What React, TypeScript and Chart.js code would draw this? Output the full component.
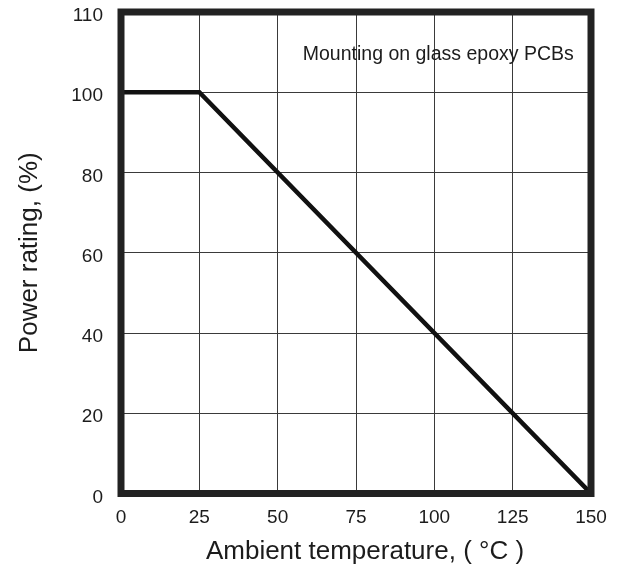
import React, { useEffect, useRef } from "react";
import { Chart, registerables } from "chart.js";

Chart.register(...registerables);

// ---- data ----
const temperatures = [0, 25, 150];
const powerRatings = [100, 100, 0];
const xTickValues = [0, 25, 50, 75, 100, 125, 150];
const yTickValues = [0, 20, 40, 60, 80, 100, 120];
const yTickLabels = ["0", "20", "40", "60", "80", "100", "110"];
const xTitle = "Ambient temperature, ( °C )";
const yTitle = "Power rating, (%)";
const noteText = "Mounting on glass epoxy PCBs";
const noteAt = { x: 144.5, y: 109.5 };

const FONT = '"Liberation Sans", Arial, Helvetica, sans-serif';
const TEXT = "#1c1c1c";

const framePlugin = {
  id: "frame",
  afterDatasetsDraw(chart: any) {
    const { ctx, chartArea } = chart;
    const { left, top, right, bottom } = chartArea;
    ctx.save();
    ctx.strokeStyle = "#222";
    ctx.lineWidth = 7;
    ctx.strokeRect(left, top, right - left, bottom - top);
    ctx.restore();
  },
  afterDraw(chart: any) {
    const { ctx, scales, chartArea } = chart;
    const px = scales.x.getPixelForValue(noteAt.x);
    const py = scales.y.getPixelForValue(noteAt.y);
    ctx.save();
    ctx.font = `19.5px ${FONT}`;
    ctx.fillStyle = TEXT;
    ctx.textAlign = "right";
    ctx.textBaseline = "middle";
    ctx.fillText(noteText, px, py);
    // x-axis title, slightly right of the plot centre as in the original
    ctx.font = `26px ${FONT}`;
    ctx.textAlign = "center";
    ctx.fillText(xTitle, (chartArea.left + chartArea.right) / 2 + 9, scales.x.bottom - 15);
    ctx.restore();
  },
};

export default function App() {
  const ref = useRef<HTMLCanvasElement | null>(null);

  useEffect(() => {
    if (!ref.current) return;
    const chart = new Chart(ref.current, {
      type: "line",
      data: {
        datasets: [
          {
            data: temperatures.map((t, i) => ({ x: t, y: powerRatings[i] })),
            borderColor: "#111",
            borderWidth: 4.5,
            pointRadius: 0,
            tension: 0,
            fill: false,
          },
        ],
      },
      options: {
        responsive: false,
        animation: false,
        devicePixelRatio: 1,
        layout: { padding: { top: 12, right: 31, left: 0, bottom: 0 } },
        plugins: {
          legend: { display: false },
          tooltip: { enabled: false },
        },
        scales: {
          x: {
            type: "linear",
            min: 0,
            max: 150,
            afterBuildTicks: (scale: any) => {
              scale.ticks = xTickValues.map((v) => ({ value: v }));
            },
            afterFit: (scale: any) => {
              scale.height = 73.5;
              scale.paddingLeft = 0;
              scale.paddingRight = 0;
            },
            grid: { color: "#3a3a3a", lineWidth: 1, drawTicks: false },
            border: { display: false },
            ticks: {
              padding: 13,
              color: TEXT,
              font: { family: FONT, size: 19 },
              maxRotation: 0,
            },
            title: { display: false },
          },
          y: {
            type: "linear",
            min: 0,
            max: 120,
            afterBuildTicks: (scale: any) => {
              scale.ticks = yTickValues.map((v) => ({ value: v }));
            },
            afterFit: (scale: any) => {
              scale.width = 121;
              scale.paddingTop = 0;
              scale.paddingBottom = 0;
            },
            grid: { color: "#3a3a3a", lineWidth: 1, drawTicks: false },
            border: { display: false },
            ticks: {
              padding: 18,
              labelOffset: 4,
              color: TEXT,
              font: { family: FONT, size: 19 },
              callback: (v: any) => {
                const i = yTickValues.indexOf(Number(v));
                return i >= 0 ? yTickLabels[i] : "";
              },
            },
            title: {
              display: true,
              text: yTitle,
              color: TEXT,
              font: { family: FONT, size: 26 },
              padding: { top: 14, bottom: 0 },
            },
          },
        },
      },
      plugins: [framePlugin],
    });
    return () => chart.destroy();
  }, []);

  return (
    <div style={{ position: "fixed", left: 0, top: 0, width: 622, height: 567, background: "#fff" }}>
      <canvas ref={ref} width={622} height={567} />
    </div>
  );
}
